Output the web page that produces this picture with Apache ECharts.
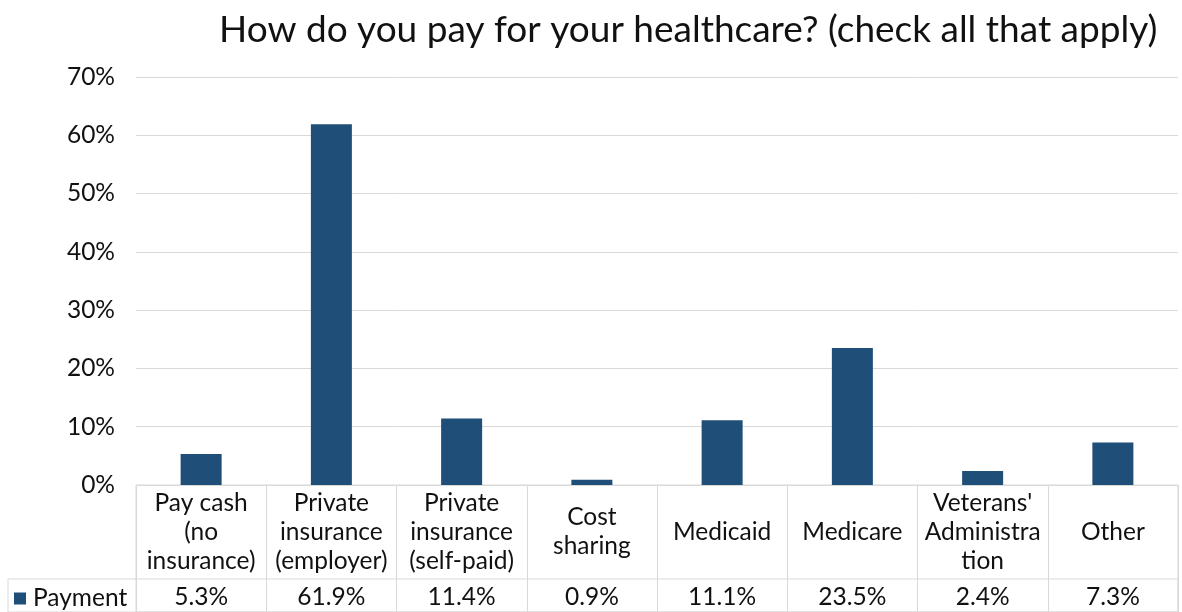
<!DOCTYPE html>
<html>
<head>
<meta charset="utf-8">
<script src="https://cdn.jsdelivr.net/npm/echarts@6/dist/echarts.min.js"></script>
<style>
html,body{margin:0;padding:0;background:#fff;}
#chart{width:1182px;height:612px;}
</style>
</head>
<body>
<div id="chart"></div>
<script>
const titleText = 'How do you pay for your healthcare? (check all that apply)';
const categories = ['Pay cash\n(no\ninsurance)', 'Private\ninsurance\n(employer)', 'Private\ninsurance\n(self-paid)', 'Cost\nsharing', 'Medicaid', 'Medicare', "Veterans'\nAdministra\ntion", 'Other'];
const seriesName = 'Payment';
const payment = [5.3, 61.9, 11.4, 0.9, 11.1, 23.5, 2.4, 7.3];
const yTicks = [0, 10, 20, 30, 40, 50, 60, 70];

const FONT = 'Lato, "Liberation Sans", sans-serif';
const FS = 24.5;
const TXT = '#111';
const LINE = '#d9d9d9';
const BAR = '#1f4e79';
const valueLabels = payment.map(v => v.toFixed(1) + '%');

const chart = echarts.init(document.getElementById('chart'), null, {renderer: 'canvas'});
chart.setOption({
  animation: false,
  backgroundColor: '#fff',
  textStyle: {fontFamily: FONT, color: TXT},
  title: {
    text: titleText,
    left: 214, top: 7,
    textStyle: {fontFamily: FONT, fontSize: 37, fontWeight: 'normal', color: TXT}
  },
  legend: {
    data: [seriesName],
    left: 9, top: 581,
    icon: 'rect', itemWidth: 12, itemHeight: 12,
    textStyle: {fontFamily: FONT, fontSize: FS, color: TXT, lineHeight: 24, padding: [0, 0, 0, 2]}
  },
  grid: [
    {left: 136, right: 4, top: 77, height: 408, containLabel: false},
    {left: 136, right: 4, top: 485, height: 160, show: true, borderColor: LINE, borderWidth: 1},
    {left: 8, right: 4, top: 579, height: 60, show: true, borderColor: LINE, borderWidth: 1}
  ],
  xAxis: [
    {
      type: 'category', gridIndex: 0, data: categories,
      axisLine: {show: false}, axisTick: {show: false},
      axisLabel: {interval: 0, margin: 47, verticalAlign: 'middle', fontFamily: FONT, fontSize: FS, color: TXT, lineHeight: 29}
    },
    {
      type: 'category', gridIndex: 0, data: valueLabels, position: 'bottom', offset: 94,
      axisLine: {show: false}, axisTick: {show: false},
      axisLabel: {interval: 0, margin: 18, verticalAlign: 'middle', fontFamily: FONT, fontSize: FS, color: TXT}
    },
    {
      type: 'category', gridIndex: 1, data: categories,
      axisLine: {show: false}, axisTick: {show: false}, axisLabel: {show: false},
      splitLine: {show: true, interval: 0, lineStyle: {color: LINE, width: 1}}
    },
    {
      type: 'category', gridIndex: 2, data: [''],
      axisLine: {show: false}, axisTick: {show: false}, axisLabel: {show: false}
    }
  ],
  yAxis: [
    {
      type: 'value', gridIndex: 0, min: 0, max: 70, interval: 10,
      axisLine: {show: false}, axisTick: {show: false},
      axisLabel: {formatter: '{value}%', margin: 21, fontFamily: FONT, fontSize: FS, color: TXT},
      splitLine: {lineStyle: {color: LINE, width: 1}}
    },
    {type: 'value', gridIndex: 1, show: false},
    {type: 'value', gridIndex: 2, show: false}
  ],
  series: [
    {
      name: seriesName, type: 'bar', xAxisIndex: 0, yAxisIndex: 0,
      data: payment, barWidth: 41, itemStyle: {color: BAR}
    }
  ]
});
</script>
</body>
</html>
